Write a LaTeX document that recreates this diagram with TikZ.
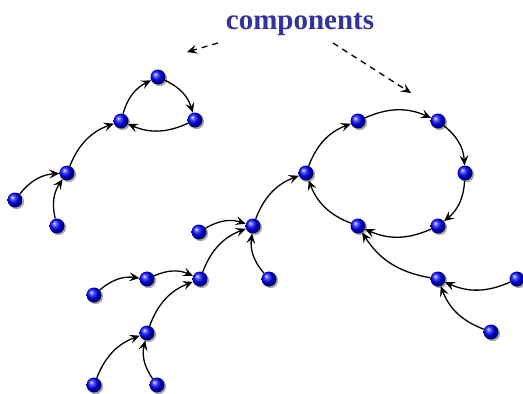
\documentclass[tikz,border=0pt]{standalone}
\usepackage{fontspec}
\setmainfont{Liberation Serif}
\usetikzlibrary{arrows.meta,shadows}
\definecolor{lblue}{RGB}{51,51,153}
\tikzset{
  ballnode/.style={circle, minimum size=15pt, inner sep=0pt, shading=ball, ball color=blue,
    drop shadow={shadow xshift=1.6pt, shadow yshift=-1.6pt, opacity=0.35, fill=black}},
  link/.style={-{Stealth[length=10pt,width=9pt,inset=4pt]}, line width=1.3pt, bend left=24},
  hint/.style={-{Stealth[length=10pt,width=9pt,inset=4pt]}, line width=1.3pt, dash pattern=on 6pt off 5pt}
}
\begin{document}
\begin{tikzpicture}[x=1pt,y=-1pt]
\useasboundingbox (0,0) rectangle (523,394);
\node[font=\fontsize{29}{30}\selectfont\bfseries, text=lblue, anchor=base] (lab) at (300,29) {components};
% left component
\node[ballnode] (a1) at (15,200) {};
\node[ballnode] (a2) at (57,226) {};
\node[ballnode] (a3) at (67,173) {};
\node[ballnode] (a4) at (121,121) {};
\node[ballnode] (a5) at (158,77) {};
\node[ballnode] (a6) at (195,120) {};
% right component
\node[ballnode] (b1) at (358,121) {};
\node[ballnode] (b2) at (438,121) {};
\node[ballnode] (b3) at (465,173) {};
\node[ballnode] (b4) at (438,226) {};
\node[ballnode] (b5) at (358,226) {};
\node[ballnode] (b6) at (306,173) {};
\node[ballnode] (b7) at (253,226) {};
\node[ballnode] (b8) at (269,279) {};
\node[ballnode] (b9) at (199,232) {};
\node[ballnode] (b10) at (200,279) {};
\node[ballnode] (b11) at (147,279) {};
\node[ballnode] (b12) at (94,295) {};
\node[ballnode] (b13) at (147,333) {};
\node[ballnode] (b14) at (94,385) {};
\node[ballnode] (b15) at (157,385) {};
\node[ballnode] (b16) at (438,279) {};
\node[ballnode] (b17) at (517,279) {};
\node[ballnode] (b18) at (491,332) {};
% hint arrows
\coordinate (h1s) at (218,43);
\coordinate (h1e) at (187,52);
\coordinate (h2s) at (333,43);
\coordinate (h2e) at (411,93);
\draw[hint] (h1s) -- (h1e);
\draw[hint] (h2s) -- (h2e);
% edges
\draw[link] (a1) to (a3);
\draw[link] (a2) to (a3);
\draw[link] (a3) to (a4);
\draw[link] (a4) to (a5);
\draw[link] (a5) to (a6);
\draw[link] (a6) to (a4);
\draw[link] (b1) to (b2);
\draw[link] (b2) to (b3);
\draw[link] (b3) to (b4);
\draw[link] (b4) to (b5);
\draw[link] (b5) to (b6);
\draw[link] (b6) to (b1);
\draw[link] (b7) to (b6);
\draw[link] (b8) to (b7);
\draw[link] (b9) to (b7);
\draw[link] (b10) to (b7);
\draw[link] (b11) to (b10);
\draw[link] (b12) to (b11);
\draw[link] (b13) to (b10);
\draw[link] (b14) to (b13);
\draw[link] (b15) to (b13);
\draw[link] (b16) to (b5);
\draw[link] (b17) to (b16);
\draw[link] (b18) to (b16);
\end{tikzpicture}
\end{document}
